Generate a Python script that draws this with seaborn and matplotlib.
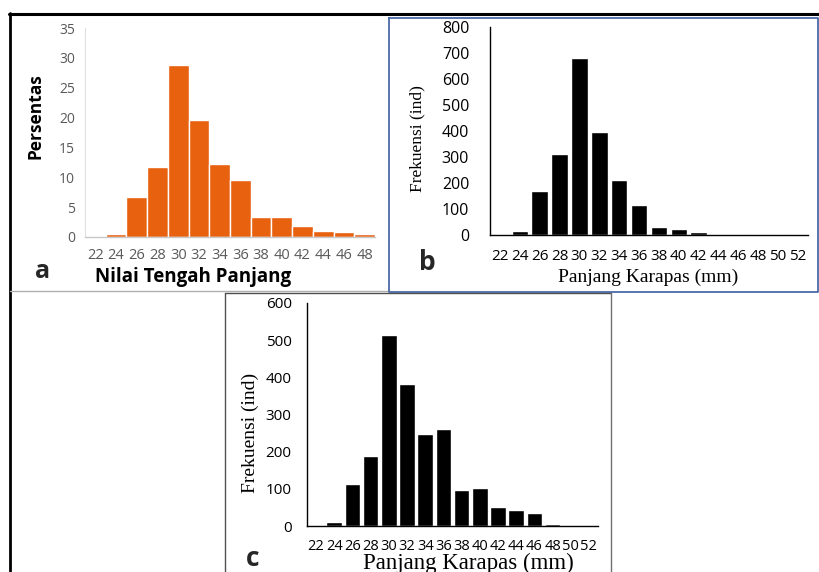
import matplotlib
matplotlib.use("Agg")
import matplotlib.pyplot as plt
import seaborn as sns
import pandas as pd
from matplotlib.lines import Line2D

# ---------------- data ----------------
cats_a = ["22", "24", "26", "28", "30", "32", "34", "36", "38", "40", "42", "44", "46", "48"]
vals_a = [0.0, 0.45, 6.7, 11.8, 28.8, 19.6, 12.2, 9.5, 3.4, 3.3, 1.8, 1.0, 0.8, 0.5]

cats_bc = ["22", "24", "26", "28", "30", "32", "34", "36", "38", "40", "42", "44", "46", "48", "50", "52"]
vals_b = [3, 14, 169, 311, 680, 395, 212, 114, 32, 22, 10, 0, 0, 4, 5, 0]
vals_c = [4, 11, 113, 187, 515, 381, 248, 262, 96, 102, 52, 43, 35, 5, 2, 2]

W, H = 820, 572
sns.set_theme(style="white")
plt.rcParams["font.family"] = ["Open Sans", "DejaVu Sans"]

fig = plt.figure(figsize=(W / 100, H / 100), dpi=100)
fig.patch.set_facecolor("white")


def rect(x0, x1, ytop, ybot):
    return [x0 / W, 1 - ybot / H, (x1 - x0) / W, (ybot - ytop) / H]


def fx(x, y):
    return x / W, 1 - y / H


SERIF = ["Liberation Serif", "DejaVu Serif"]

# ---------------- panel a ----------------
ax_a = fig.add_axes(rect(85, 375, 28, 237))
df_a = pd.DataFrame({"kelas": cats_a, "persen": vals_a})
sns.barplot(data=df_a, x="kelas", y="persen", order=cats_a, ax=ax_a,
            color="#E8610E", saturation=1, width=1.0, edgecolor="white", linewidth=1.0)
ax_a.set_xlim(-0.5, len(cats_a) - 0.5)
ax_a.set_ylim(0, 35)
ax_a.set_yticks(range(0, 36, 5))
ax_a.set_xlabel("")
ax_a.set_ylabel("")
for s in ["top", "right"]:
    ax_a.spines[s].set_visible(False)
ax_a.spines["left"].set_color("#e0e0e0")
ax_a.spines["bottom"].set_color("#c8c8c8")
ax_a.spines["left"].set_linewidth(0.8)
ax_a.spines["bottom"].set_linewidth(1.0)
ax_a.tick_params(axis="x", length=0, pad=8, labelsize=10.5, labelcolor="#595959")
ax_a.tick_params(axis="y", length=0, pad=7, labelsize=10, labelcolor="#595959")
ax_a.set_xticks([i - 0.5 for i in range(len(cats_a) + 1)], minor=True)
ax_a.tick_params(axis="x", which="minor", length=4, color="#c8c8c8", width=0.8, direction="out")
fig.text(*fx(35, 116), "Persentas", rotation=90, ha="center", va="center",
         fontsize=12.5, fontweight="bold", color="black")
fig.text(*fx(193, 277), "Nilai Tengah Panjang", ha="center", va="center",
         fontsize=13.5, fontweight="bold", color="black")
fig.text(*fx(43, 271), "a", ha="center", va="center", fontsize=18, fontweight="bold")

# ---------------- panel b ----------------
ax_b = fig.add_axes(rect(490, 808, 27, 235))
df_b = pd.DataFrame({"kelas": cats_bc, "frek": vals_b})
sns.barplot(data=df_b, x="kelas", y="frek", order=cats_bc, ax=ax_b,
            color="black", saturation=1, width=0.83)
ax_b.set_xlim(-0.5, len(cats_bc) - 0.5)
ax_b.set_ylim(0, 800)
ax_b.set_yticks(range(0, 801, 100))
ax_b.set_xlabel("")
ax_b.set_ylabel("")
for s in ["top", "right"]:
    ax_b.spines[s].set_visible(False)
for s in ["left", "bottom"]:
    ax_b.spines[s].set_color("black")
    ax_b.spines[s].set_linewidth(1.0)
ax_b.tick_params(axis="x", length=0, pad=10, labelsize=11, labelcolor="black")
ax_b.tick_params(axis="y", length=0, pad=15, labelsize=11.5, labelcolor="black")
fig.text(*fx(417, 139), "Frekuensi (ind)", rotation=90, ha="center", va="center",
         fontsize=12.5, family=SERIF, color="black")
fig.text(*fx(648, 277), "Panjang Karapas (mm)", ha="center", va="center",
         fontsize=14, family=SERIF, color="black")
fig.text(*fx(427, 262), "b", ha="center", va="center", fontsize=19, fontweight="bold")

# ---------------- panel c ----------------
ax_c = fig.add_axes(rect(307, 598, 303, 526))
df_c = pd.DataFrame({"kelas": cats_bc, "frek": vals_c})
sns.barplot(data=df_c, x="kelas", y="frek", order=cats_bc, ax=ax_c,
            color="black", saturation=1, width=0.86)
ax_c.set_xlim(-0.5, len(cats_bc) - 0.5)
ax_c.set_ylim(0, 600)
ax_c.set_yticks(range(0, 601, 100))
ax_c.set_xlabel("")
ax_c.set_ylabel("")
for s in ["top", "right"]:
    ax_c.spines[s].set_visible(False)
for s in ["left", "bottom"]:
    ax_c.spines[s].set_color("black")
    ax_c.spines[s].set_linewidth(1.0)
ax_c.tick_params(axis="x", length=0, pad=9, labelsize=10.5, labelcolor="black")
ax_c.tick_params(axis="y", length=0, pad=11, labelsize=11, labelcolor="black")
fig.text(*fx(250, 433), "Frekuensi (ind)", rotation=90, ha="center", va="center",
         fontsize=14, family=SERIF, color="black")
fig.text(*fx(468, 563), "Panjang Karapas (mm)", ha="center", va="center",
         fontsize=16.5, family=SERIF, color="black")
fig.text(*fx(253, 558), "c", ha="center", va="center", fontsize=19, fontweight="bold")

# ---------------- frames ----------------
def fline(xs, ys, **kw):
    fig.add_artist(Line2D([x / W for x in xs], [1 - y / H for y in ys],
                          transform=fig.transFigure, **kw))

fline([9, 820], [14, 14], color="black", lw=2.2)
fline([10, 10], [13, 572], color="black", lw=2.0)
fline([10, 389], [291, 291], color="#b0b0b0", lw=1.0)
fline([389, 389, 818, 818, 389], [18, 292, 292, 18, 18], color="#4a6aa8", lw=1.3)
fline([225, 225], [293, 572], color="#505050", lw=1.0)
fline([225, 611], [293, 293], color="#505050", lw=1.0)
fline([611, 611], [293, 572], color="#707070", lw=1.0)

fig.savefig("out.png", dpi=100, facecolor="white")
